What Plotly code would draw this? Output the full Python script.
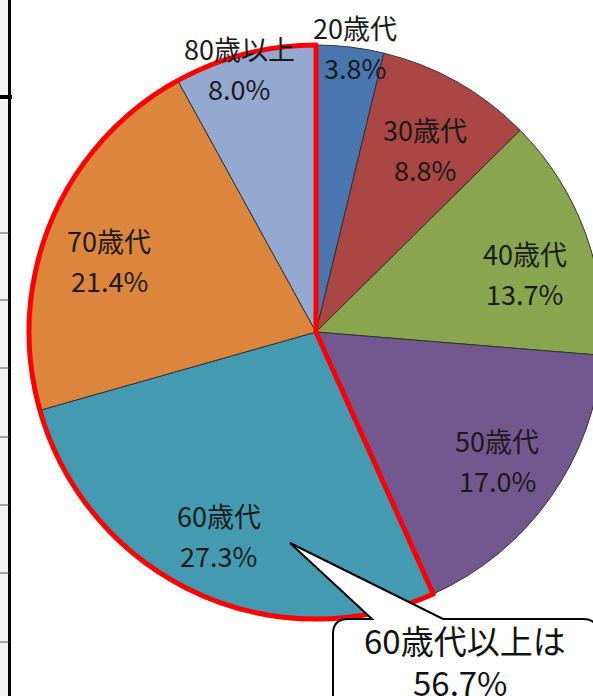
import math
import plotly.graph_objects as go

labels = ["20歳代", "30歳代", "40歳代", "50歳代", "60歳代", "70歳代", "80歳以上"]
shares = [3.8, 8.8, 13.7, 17.0, 27.3, 21.4, 8.0]
colors = ["#4A76B0", "#AA4643", "#89A64F", "#72588F", "#439AB1", "#DC853D", "#93A9CF"]

# 60歳代以上をまとめて強調
senior_start = 4
under60 = sum(shares[:senior_start])
over60 = sum(shares[senior_start:])

# left-edge axis fragment (part of a neighbouring chart)
axis_ticks = [233, 300, 368, 437, 505, 573, 642]

W, H = 605, 696
CX, CY, R = 316, 332, 287
# label placement: radius fraction and angle nudge (deg) per slice
label_r = [1.0, 0.74, 0.756, 0.773, 0.787, 0.763, 0.955]
label_da = [1.0, 1.4, 4.4, 0.0, 0.5, -3.5, -1.9]


def px(x):
    return x / W


def py(y):
    return 1 - y / H


domain = dict(x=[px(CX - R), px(CX + R)], y=[py(CY + R), py(CY - R)])

fig = go.Figure()

fig.add_trace(
    go.Pie(
        labels=labels,
        values=shares,
        sort=False,
        direction="clockwise",
        rotation=0,
        marker=dict(colors=colors, line=dict(color="#333333", width=1)),
        textinfo="none",
        hoverinfo="skip",
        domain=domain,
        showlegend=False,
    )
)

# red outline around the 60+ group
fig.add_trace(
    go.Pie(
        labels=["60歳未満", "60歳以上"],
        values=[under60, over60],
        sort=False,
        direction="clockwise",
        rotation=0,
        marker=dict(
            colors=["rgba(0,0,0,0)", "rgba(0,0,0,0)"],
            line=dict(color=["rgba(0,0,0,0)", "#FF0000"], width=[0, 5]),
        ),
        textinfo="none",
        hoverinfo="skip",
        domain=domain,
        showlegend=False,
    )
)


def note(x, y, text, font):
    return dict(x=px(x), y=py(y), text=text, showarrow=False, xref="paper", yref="paper",
                xanchor="center", yanchor="middle", font=font)


font = dict(family="Noto Sans CJK JP", size=27, color="#1a1a1a")
annotations = []
cum = 0
for lab, v, rf, da in zip(labels, shares, label_r, label_da):
    theta = math.radians(360 * (cum + v / 2) / 100 + da)
    cum += v
    x = CX + R * rf * math.sin(theta)
    y = CY - R * rf * math.cos(theta)
    annotations.append(note(x, y - 20, lab, font))
    annotations.append(note(x, y + 20, f"{v:.1f}%", font))

big = dict(family="Noto Sans CJK JP", size=33, color="#111111")
annotations.append(note(465, 640, "60歳代以上は", big))
annotations.append(note(460, 682, f"{over60:.1f}%", big))

# speech bubble
pts = [(348, 619), (372, 619), (290, 543), (443, 619), (583, 619)]
rr = 15
path = f"M {px(pts[0][0])},{py(pts[0][1])}"
for x, y in pts[1:]:
    path += f" L {px(x)},{py(y)}"
path += f" Q {px(598)},{py(619)} {px(598)},{py(619 + rr)}"
path += f" L {px(598)},{py(730)} L {px(333)},{py(730)} L {px(333)},{py(619 + rr)}"
path += f" Q {px(333)},{py(619)} {px(348)},{py(619)} Z"

shapes = [
    dict(type="rect", xref="paper", yref="paper", x0=px(0), x1=px(9), y0=py(H), y1=py(0),
         fillcolor="#F2F2F2", line=dict(width=0), layer="below"),
    dict(type="line", xref="paper", yref="paper", x0=px(9.5), x1=px(9.5), y0=py(H), y1=py(0),
         line=dict(color="#000000", width=3)),
    dict(type="line", xref="paper", yref="paper", x0=px(0), x1=px(12), y0=py(97), y1=py(97),
         line=dict(color="#000000", width=4)),
    dict(type="path", xref="paper", yref="paper", path=path,
         fillcolor="#FFFFFF", line=dict(color="#000000", width=2)),
]
for t in axis_ticks:
    shapes.append(dict(type="line", xref="paper", yref="paper", x0=px(0), x1=px(9),
                       y0=py(t), y1=py(t), line=dict(color="#555555", width=1)))

fig.update_layout(
    width=W,
    height=H,
    margin=dict(l=0, r=0, t=0, b=0),
    paper_bgcolor="#FFFFFF",
    plot_bgcolor="#FFFFFF",
    shapes=shapes,
    annotations=annotations,
)

fig.write_html(
    "out.html",
    config={"displayModeBar": False},
    post_script="document.body.style.margin='0';document.body.style.overflow='hidden';",
)
